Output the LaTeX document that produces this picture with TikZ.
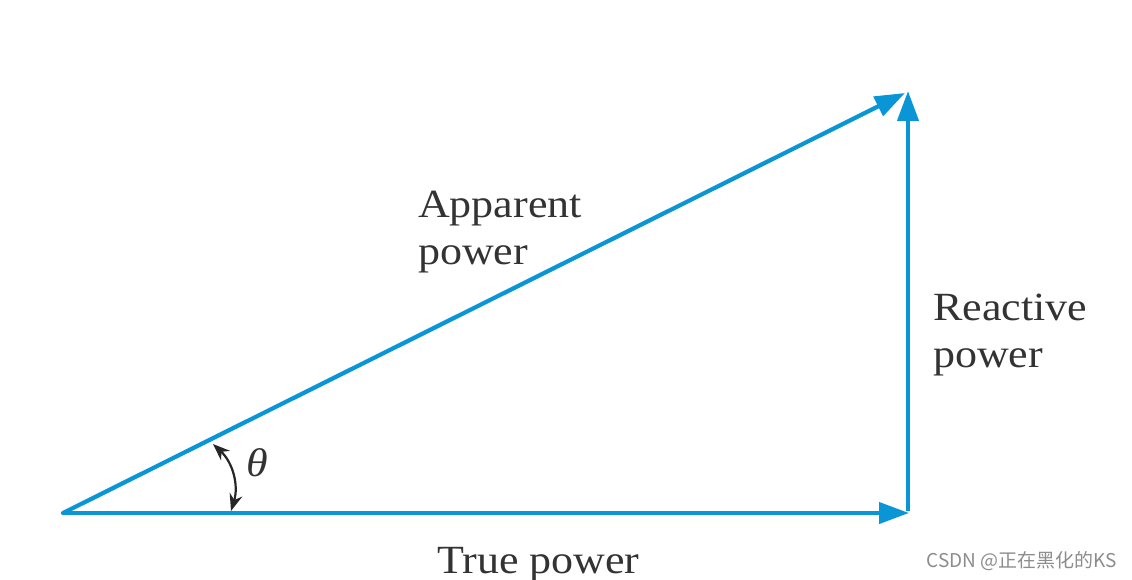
\documentclass[tikz,border=0pt]{standalone}
\usepackage{fontspec}
\setmainfont{Liberation Serif}
\newfontfamily\widefont[FakeStretch=1.1]{Liberation Serif}
\newfontfamily\cjkfont{Noto Sans CJK SC}
\usetikzlibrary{arrows.meta}
\definecolor{vecblue}{HTML}{0A96D6}
\definecolor{txtgray}{HTML}{333333}
\tikzset{
  vec/.style={draw=vecblue, line width=4.2pt, -{Triangle[length=30pt,width=21pt]}},
  lbl/.style={inner sep=0pt, text=txtgray, font=\widefont\fontsize{40}{47}\selectfont, align=left},
  angarrow/.style={draw=black!85, line width=2.2pt, {Stealth[length=17pt,width=13pt]}-{Stealth[length=17pt,width=13pt]}},
}
\begin{document}
\begin{tikzpicture}[x=1pt,y=-1pt]
\useasboundingbox (0,0) rectangle (1132,580);
\coordinate (O) at (63,513);
\coordinate (B) at (908,513);
\coordinate (T) at (908,91);
\coordinate (Td) at (905,93);
\coordinate (A1) at (213,444);
\coordinate (A2) at (231,511);
\draw[vec, line cap=round] (O) -- ([xshift=1pt]B);
\draw[vec] ([yshift=2pt]B) -- (T);
\draw[vec] (O) -- (Td);
\draw[angarrow] (A1) to[bend left=32] (A2);
\node[lbl, anchor=base west] (app) at (418,264) {Apparent\\power};
\node[lbl, anchor=base west] (rea) at (933,367) {Reactive\\power};
\node[lbl, anchor=base west] (tru) at (437,573) {True power};
\node[lbl, anchor=base west] (th) at (246,476) {\itshape θ};
\node[inner sep=0pt, anchor=base east, text=black!45, font=\cjkfont\fontsize{19}{22}\selectfont] (wm) at (1117,567) {CSDN @正在黑化的KS};
\end{tikzpicture}
\end{document}
